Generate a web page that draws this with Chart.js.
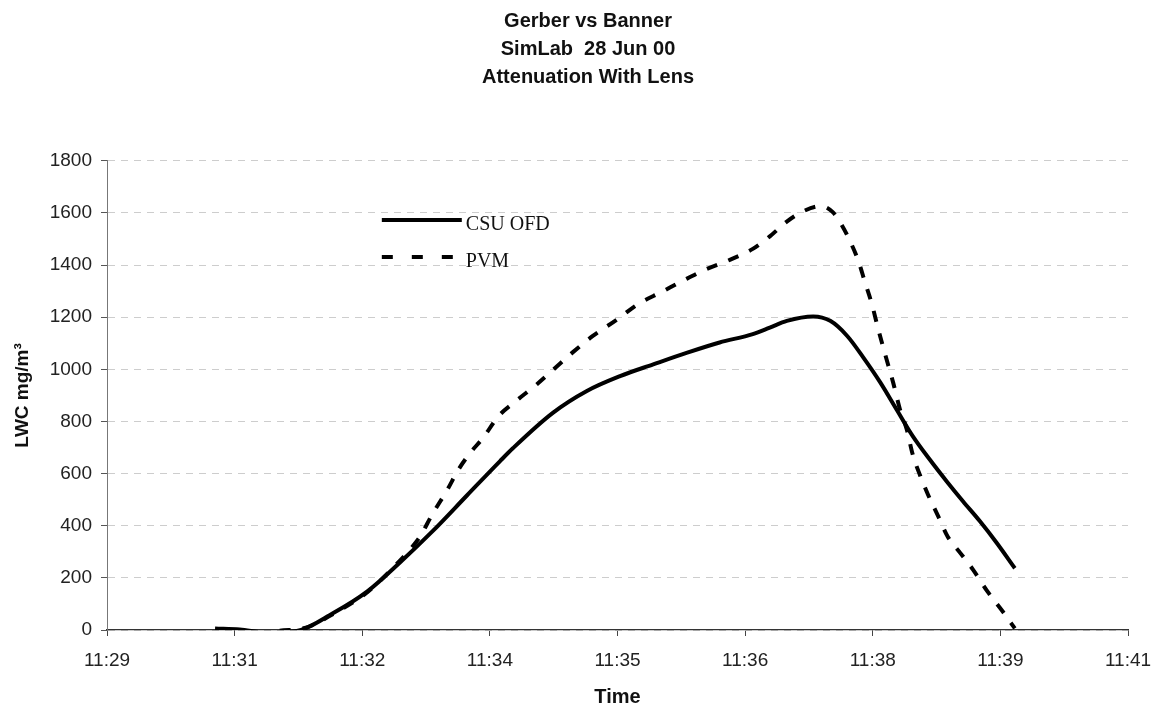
<!DOCTYPE html>
<html>
<head>
<meta charset="utf-8">
<script src="https://cdn.jsdelivr.net/npm/chart.js@4.4.1/dist/chart.umd.min.js"></script>
<style>
  html, body { margin: 0; padding: 0; background: #fff; }
  #wrap { width: 1169px; height: 707px; }
</style>
</head>
<body>
<div id="wrap"><canvas id="lwcChart" width="1169" height="707"></canvas></div>
<script>
// x values are minutes after 11:29:00, axis runs 0..12 in 1.5 min steps
var tickLabels = ['11:29', '11:31', '11:32', '11:34', '11:35', '11:36', '11:38', '11:39', '11:41'];

var csuTime = [1.27, 1.56, 1.88, 2.23, 2.66, 3.06, 3.44, 3.83, 4.23, 4.62, 4.77, 5.24, 5.64, 6.03, 6.42,
               6.82, 7.20, 7.59, 7.79, 7.99, 8.30, 8.50, 8.70, 8.89, 9.09, 9.28, 9.47, 9.67, 9.87,
               10.06, 10.26, 10.46, 10.67];
var csuLwc  = [6, 2, -10, -4, 65, 148, 258, 380, 516, 648, 697, 833, 917, 974, 1019,
               1064, 1103, 1135, 1160, 1186, 1203, 1186, 1128, 1045, 949, 846, 744, 654, 570,
               494, 417, 333, 237];

var pvmTime = [2.03, 2.35, 2.66, 3.06, 3.44, 3.54, 3.68, 3.82, 4.00, 4.13, 4.27, 4.42, 4.60, 4.82,
               5.05, 5.27, 5.48, 5.71, 5.99, 6.24, 6.52, 6.77, 7.03, 7.32, 7.59, 7.79, 7.99, 8.20,
               8.39, 8.53, 8.64, 8.73, 8.83, 8.91, 8.99, 9.06, 9.14, 9.24, 9.32, 9.40, 9.47, 9.56,
               9.65, 9.77, 9.88, 10.03, 10.18, 10.35, 10.53, 10.67];
var pvmLwc  = [-3, 10, 62, 145, 265, 301, 359, 442, 538, 615, 680, 737, 820, 882,
               942, 1006, 1067, 1128, 1190, 1250, 1297, 1340, 1382, 1420, 1462, 1510, 1567, 1609,
               1626, 1603, 1551, 1494, 1417, 1333, 1250, 1160, 1064, 949, 846, 769, 673, 590,
               519, 436, 359, 295, 231, 147, 70, 6];

var titleLines = ['Gerber vs Banner', 'SimLab  28 Jun 00', 'Attenuation With Lens'];

function toPoints(xs, ys) {
  var pts = [];
  for (var i = 0; i < xs.length; i++) pts.push({ x: xs[i], y: ys[i] });
  return pts;
}

// legend drawn inside the plot, Excel style
var innerLegend = {
  id: 'innerLegend',
  afterDraw: function(chart) {
    var ctx = chart.ctx;
    var x0 = chart.scales.x.getPixelForValue(3.23);
    var x1 = chart.scales.x.getPixelForValue(4.17);
    var rows = [1573, 1431];
    ctx.save();
    ctx.font = '20px "Liberation Serif", "Times New Roman", serif';
    ctx.textBaseline = 'alphabetic';
    chart.data.datasets.forEach(function(ds, i) {
      var y = chart.scales.y.getPixelForValue(rows[i]);
      ctx.strokeStyle = ds.borderColor;
      ctx.lineWidth = ds.borderWidth;
      ctx.setLineDash(ds.borderDash ? [11, 19] : []);
      ctx.beginPath();
      ctx.moveTo(x0, y);
      ctx.lineTo(x1, y);
      ctx.stroke();
      ctx.setLineDash([]);
      ctx.fillStyle = '#111';
      ctx.fillText(ds.label, x1 + 4, y + 10);
    });
    ctx.restore();
  }
};

var ctx = document.getElementById('lwcChart');
var chart = new Chart(ctx, {
  type: 'line',
  data: {
    datasets: [{
      label: 'CSU OFD',
      data: toPoints(csuTime, csuLwc),
      borderColor: '#000',
      borderWidth: 4,
      pointRadius: 0,
      cubicInterpolationMode: 'monotone',
      fill: false
    }, {
      label: 'PVM',
      data: toPoints(pvmTime, pvmLwc),
      borderColor: '#000',
      borderWidth: 4,
      borderDash: [11, 12],
      pointRadius: 0,
      cubicInterpolationMode: 'monotone',
      fill: false
    }]
  },
  options: {
    responsive: false,
    animation: false,
    layout: { padding: { left: 7, right: 0, top: 0, bottom: 0 } },
    plugins: {
      legend: { display: false },
      tooltip: { enabled: false },
      title: {
        display: true,
        text: titleLines,
        color: '#111',
        font: { family: '"Liberation Sans", Arial, sans-serif', size: 20, weight: 'bold', lineHeight: 1.38 },
        padding: { top: 8, bottom: 70 }
      }
    },
    scales: {
      x: {
        type: 'linear',
        min: 0,
        max: 12,
        afterBuildTicks: function(scale) {
          scale.ticks = tickLabels.map(function(l, i) { return { value: i * 1.5 }; });
        },
        afterFit: function(scale) {
          scale.height = 77;
          scale.paddingRight = 41;
        },
        ticks: {
          color: '#222',
          font: { family: '"Liberation Sans", Arial, sans-serif', size: 19 },
          padding: 13,
          maxRotation: 0,
          autoSkip: false,
          callback: function(v, i) { return tickLabels[i]; }
        },
        grid: { drawOnChartArea: false, drawTicks: true, tickLength: 6, tickColor: '#444' },
        border: { display: true, color: '#333', width: 1.3 },
        title: {
          display: true,
          text: 'Time',
          color: '#111',
          font: { family: '"Liberation Sans", Arial, sans-serif', size: 20, weight: 'bold', lineHeight: 1 },
          padding: { top: 0, bottom: 0 }
        }
      },
      y: {
        min: 0,
        max: 1800,
        afterFit: function(scale) { scale.width = 100; },
        ticks: {
          stepSize: 200,
          color: '#222',
          font: { family: '"Liberation Sans", Arial, sans-serif', size: 19 },
          padding: 9,
          callback: function(v) { return String(v); }
        },
        grid: {
          color: '#cdcdcd',
          lineWidth: 1,
          tickLength: 6,
          tickColor: '#555',
          tickBorderDash: []
        },
        border: { display: true, color: '#777', width: 1, dash: [7, 6] },
        title: {
          display: true,
          text: 'LWC mg/m³',
          color: '#111',
          font: { family: '"Liberation Sans", Arial, sans-serif', size: 19, weight: 'bold' },
          padding: { top: 4, bottom: 0 }
        }
      }
    }
  },
  plugins: [innerLegend]
});
</script>
</body>
</html>
